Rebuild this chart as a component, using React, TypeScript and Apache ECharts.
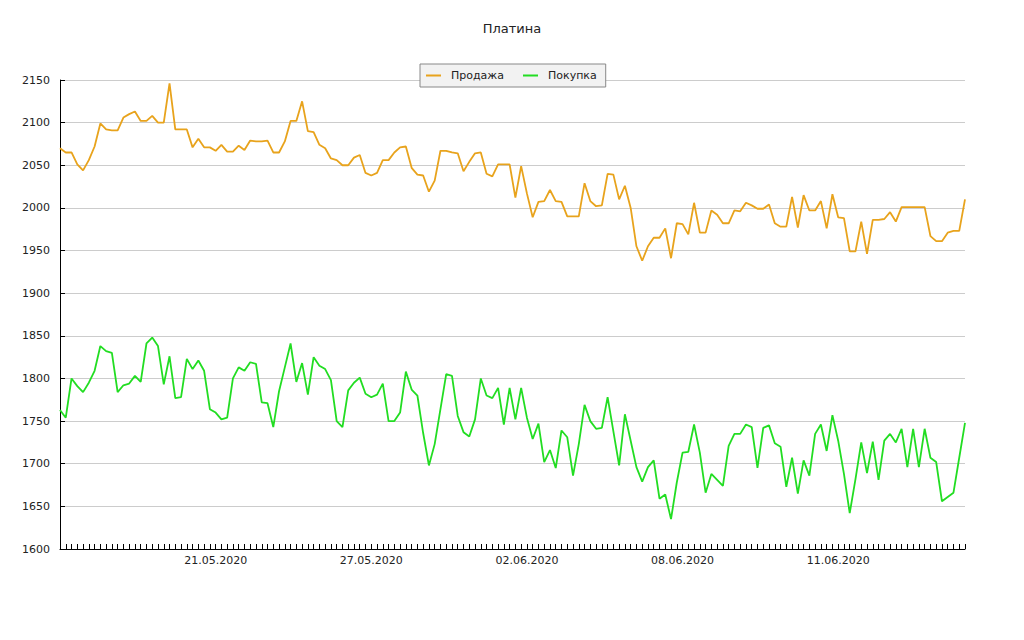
import React, { useEffect, useRef } from "react";
import * as echarts from "echarts";

const titleText = "Платина";
const seriesNames = ["Продажа", "Покупка"];
const dateLabels = ["21.05.2020", "27.05.2020", "02.06.2020", "08.06.2020", "11.06.2020"];
const labelEvery = 27;

const sellValues = [
  2070, 2065, 2065, 2051, 2044, 2056, 2072, 2099, 2092, 2091,
  2091, 2106, 2110, 2113, 2102, 2102, 2108, 2100, 2100, 2146,
  2092, 2092, 2092, 2071, 2081, 2071, 2071, 2067, 2074, 2066,
  2066, 2073, 2068, 2079, 2078, 2078, 2079, 2065, 2065, 2078,
  2102, 2102, 2125, 2090, 2089, 2074, 2070, 2058, 2056, 2050,
  2050, 2059, 2062, 2041, 2038, 2041, 2056, 2056, 2065, 2071,
  2072, 2047, 2039, 2038, 2019, 2032, 2067, 2067, 2065, 2064,
  2043, 2054, 2064, 2065, 2040, 2037, 2051, 2051, 2051, 2012,
  2049, 2017, 1989, 2007, 2008, 2021, 2008, 2007, 1990, 1990,
  1990, 2029, 2008, 2002, 2003, 2040, 2039, 2010, 2026, 2000,
  1955, 1938, 1955, 1965, 1965, 1976, 1941, 1982, 1981, 1969,
  2006, 1971, 1971, 1997, 1992, 1982, 1982, 1997, 1996, 2006,
  2003, 1999, 1999, 2004, 1982, 1978, 1978, 2013, 1977, 2015,
  1997, 1997, 2008, 1976, 2016, 1989, 1988, 1949, 1949, 1984,
  1946, 1986, 1986, 1987, 1995, 1984, 2001, 2001, 2001, 2001,
  2001, 1967, 1961, 1961, 1971, 1973, 1973, 2010,
];

const buyValues = [
  1763, 1754, 1800, 1791, 1784, 1795, 1809, 1838, 1832, 1830,
  1784, 1792, 1794, 1803, 1796, 1841, 1848, 1838, 1793, 1826,
  1777, 1778, 1823, 1811, 1821, 1809, 1764, 1760, 1752, 1754,
  1800, 1813, 1809, 1819, 1817, 1772, 1771, 1743, 1785, 1813,
  1841, 1796, 1818, 1781, 1825, 1815, 1811, 1798, 1750, 1743,
  1786, 1795, 1801, 1782, 1778, 1781, 1794, 1750, 1750, 1760,
  1808, 1787, 1780, 1736, 1698, 1723, 1764, 1805, 1803, 1756,
  1737, 1732, 1752, 1800, 1780, 1777, 1789, 1746, 1789, 1752,
  1789, 1754, 1729, 1747, 1702, 1716, 1695, 1739, 1731, 1686,
  1723, 1769, 1750, 1741, 1742, 1778, 1738, 1698, 1758, 1727,
  1696, 1679, 1696, 1704, 1659, 1664, 1635, 1678, 1713, 1714,
  1746, 1713, 1666, 1688, 1681, 1674, 1721, 1735, 1735, 1746,
  1743, 1695, 1742, 1745, 1724, 1720, 1673, 1707, 1665, 1704,
  1686, 1735, 1746, 1715, 1757, 1727, 1688, 1642, 1682, 1725,
  1689, 1726, 1681, 1727, 1735, 1725, 1741, 1696, 1741, 1696,
  1741, 1707, 1702, 1656, 1661, 1666, 1707, 1748,
];

const categories = sellValues.map((_, i) => String(i));

const yMin = 1600;
const yMax = 2150;
const yStep = 50;

const FONT = "DejaVu Sans";

export default function App() {
  const ref = useRef<HTMLDivElement>(null);

  useEffect(() => {
    if (!ref.current) return;
    const chart = echarts.init(ref.current, undefined, { renderer: "svg" });
    chart.setOption({
      animation: false,
      backgroundColor: "#ffffff",
      textStyle: { fontFamily: FONT },
      title: {
        text: titleText,
        left: "center",
        top: 17,
        textStyle: { fontFamily: FONT, fontSize: 13, fontWeight: "normal", color: "#222" },
      },
      legend: {
        left: 420,
        top: 64,
        padding: [6, 9, 6, 6],
        itemGap: 19,
        itemWidth: 15,
        itemHeight: 2,
        icon: "rect",
        borderColor: "#888",
        borderWidth: 1,
        borderRadius: 0,
        backgroundColor: "#f2f2f2",
        textStyle: { fontFamily: FONT, fontSize: 11, color: "#222", padding: [0, 0, 0, 5] },
        data: seriesNames,
      },
      grid: { left: 60, right: 59, top: 80, bottom: 91, containLabel: false },
      xAxis: {
        type: "category",
        data: categories,
        boundaryGap: false,
        axisLine: { lineStyle: { color: "#000", width: 1 } },
        axisTick: { show: true, inside: true, length: 5, interval: 0, lineStyle: { color: "#000" } },
        axisLabel: {
          interval: (index: number) => index > 0 && index % labelEvery === 0,
          formatter: (_v: string, index: number) =>
            index > 0 && index % labelEvery === 0 ? dateLabels[index / labelEvery - 1] ?? "" : "",
          fontFamily: FONT,
          fontSize: 11,
          color: "#222",
          margin: 6,
        },
        splitLine: { show: false },
      },
      yAxis: {
        type: "value",
        min: yMin,
        max: yMax,
        interval: yStep,
        axisLine: { show: true, lineStyle: { color: "#000", width: 1 } },
        axisTick: { show: true, inside: true, length: 5, lineStyle: { color: "#000" } },
        axisLabel: {
          fontFamily: FONT,
          fontSize: 11,
          color: "#222",
          margin: 10,
          formatter: (v: number) => String(v),
        },
        splitLine: { show: true, lineStyle: { color: "#cccccc", width: 1 } },
      },
      series: [
        {
          name: seriesNames[0],
          type: "line",
          data: sellValues,
          showSymbol: false,
          symbol: "none",
          color: "#e8a31c",
          lineStyle: { color: "#e8a31c", width: 1.8 },
        },
        {
          name: seriesNames[1],
          type: "line",
          data: buyValues,
          showSymbol: false,
          symbol: "none",
          color: "#22dd22",
          lineStyle: { color: "#22dd22", width: 1.8 },
        },
      ],
    });
    return () => chart.dispose();
  }, []);

  return (
    <div
      ref={ref}
      style={{ position: "absolute", left: 0, top: 0, width: 1024, height: 640 }}
    />
  );
}
